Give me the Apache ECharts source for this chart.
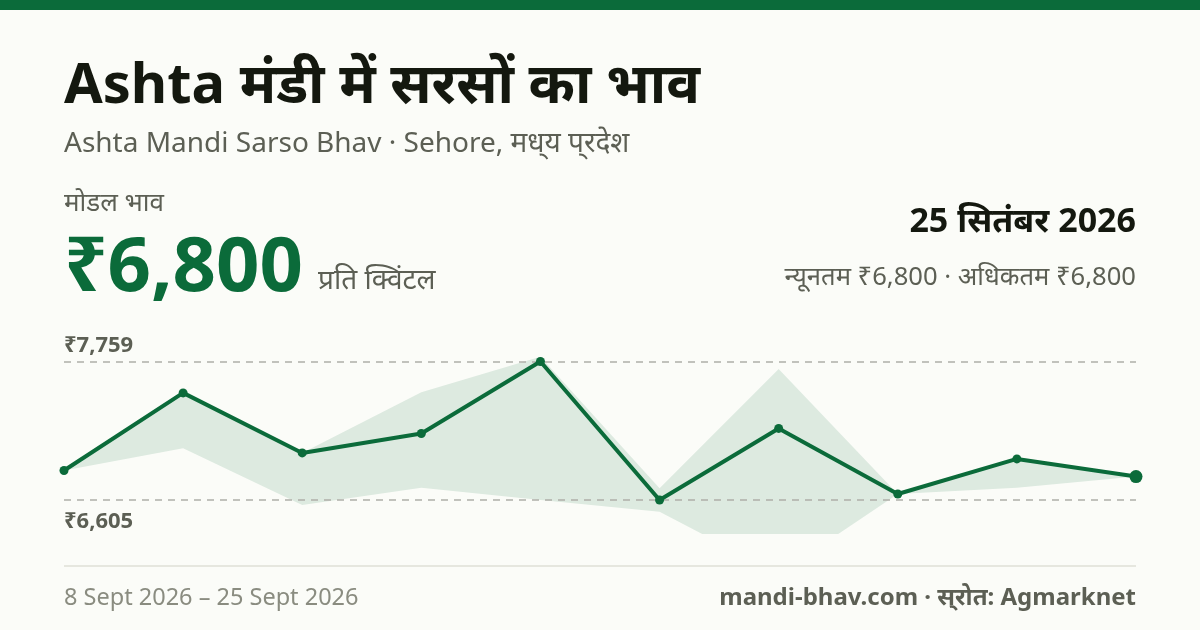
<!DOCTYPE html>
<html>
<head>
<meta charset="utf-8">
<title>Ashta मंडी में सरसों का भाव</title>
<style>
  html, body { margin: 0; padding: 0; background: #fbfcf8; }
  #chart { width: 1200px; height: 630px; }
</style>
</head>
<body>
<div id="chart"></div>
<script src="https://cdn.jsdelivr.net/npm/echarts@6/dist/echarts.min.js"></script>
<script>
var days = ['8 Sept', '10 Sept', '12 Sept', '14 Sept', '16 Sept', '18 Sept', '20 Sept', '22 Sept', '24 Sept', '25 Sept'];
var modalPrices = [6851, 7497, 6997, 7159, 7759, 6605, 7201, 6655, 6947, 6800];
var minPrices = [6851, 7036, 6563, 6707, 6605, 6508, 5988, 6655, 6707, 6800];
var maxPrices = [6851, 7497, 6997, 7502, 7799, 6702, 7696, 6655, 6947, 6800];
var refLevels = [7759, 6605];

var GREEN = '#0b6b3a';
var FONT = '"Noto Sans", "Noto Sans Devanagari", sans-serif';

function rupee(v) {
  return '₹' + v.toLocaleString('en-IN');
}

function txt(x, y, text, size, weight, color, align) {
  return {
    type: 'text',
    x: x,
    y: y,
    silent: true,
    style: {
      text: text,
      fontFamily: FONT,
      fontSize: size,
      fontWeight: weight,
      fill: color,
      align: align || 'left',
      verticalAlign: 'middle'
    }
  };
}

var myChart = echarts.init(document.getElementById('chart'), null, { renderer: 'canvas' });
var option = {
  animation: false,
  backgroundColor: '#fbfcf8',
  grid: { left: 64, right: 64, top: 342, bottom: 97 },
  xAxis: {
    type: 'category',
    data: days,
    boundaryGap: false,
    show: false
  },
  yAxis: {
    type: 'value',
    min: 6330,
    max: 7921,
    show: false
  },
  series: [
    {
      // invisible base of the min-max band
      name: 'न्यूनतम',
      type: 'line',
      stack: 'band',
      data: minPrices,
      symbol: 'none',
      lineStyle: { opacity: 0 },
      z: 1
    },
    {
      name: 'अधिकतम',
      type: 'line',
      stack: 'band',
      data: maxPrices.map(function(v, i) { return v - minPrices[i]; }),
      symbol: 'none',
      lineStyle: { opacity: 0 },
      areaStyle: { color: GREEN, opacity: 0.12 },
      z: 1
    },
    {
      name: 'मोडल भाव',
      type: 'line',
      data: modalPrices,
      symbol: 'circle',
      symbolSize: function(v, p) {
        return p.dataIndex === modalPrices.length - 1 ? 13 : 9;
      },
      showAllSymbol: true,
      lineStyle: { color: GREEN, width: 4 },
      itemStyle: { color: GREEN },
      z: 3,
      markLine: {
        silent: true,
        symbol: 'none',
        z: 2,
        lineStyle: { color: '#aeafa8', type: [7, 6], width: 1.5 },
        data: [
          {
            yAxis: refLevels[0],
            label: { position: 'insideStartTop', distance: [0, 5] }
          },
          {
            yAxis: refLevels[1],
            label: { position: 'insideStartBottom', distance: [0, 11] }
          }
        ],
        label: {
          show: true,
          formatter: function(p) { return rupee(p.value); },
          fontFamily: FONT,
          fontSize: 22,
          fontWeight: 700,
          color: '#5c5f54',
          padding: 0
        }
      }
    }
  ],
  graphic: [
    { type: 'rect', shape: { x: 0, y: 0, width: 1200, height: 10 }, style: { fill: GREEN }, silent: true },
    txt(64, 87, 'Ashta मंडी में सरसों का भाव', 56, 700, '#14180f'),
    txt(64, 144, 'Ashta Mandi Sarso Bhav · Sehore, मध्\u200Cय प्\u200Cरदेश', 28, 400, '#5c5f54'),
    txt(64, 204, 'मोडल भाव', 26, 400, '#5c5f54'),
    txt(64, 269, rupee(modalPrices[modalPrices.length - 1]), 76, 700, GREEN),
    txt(318, 281, 'प्रति क्विंटल', 28, 400, '#5c5f54'),
    txt(1136, 222, '25 सितंबर 2026', 34, 700, '#14180f', 'right'),
    txt(1136, 278, 'न्यूनतम ₹6,800 · अधिकतम ₹6,800', 25.6, 400, '#5c5f54', 'right'),
    { type: 'rect', shape: { x: 64, y: 565, width: 1072, height: 2 }, style: { fill: '#e6e7df' }, silent: true },
    txt(64, 598, '8 Sept 2026 – 25 Sept 2026', 23.5, 400, '#8a8c80'),
    txt(1136, 598, 'mandi-bhav.com · स्\u200Cरोत: Agmarknet', 24, 700, '#5c5f54', 'right')
  ]
};
myChart.setOption(option);
</script>
</body>
</html>
